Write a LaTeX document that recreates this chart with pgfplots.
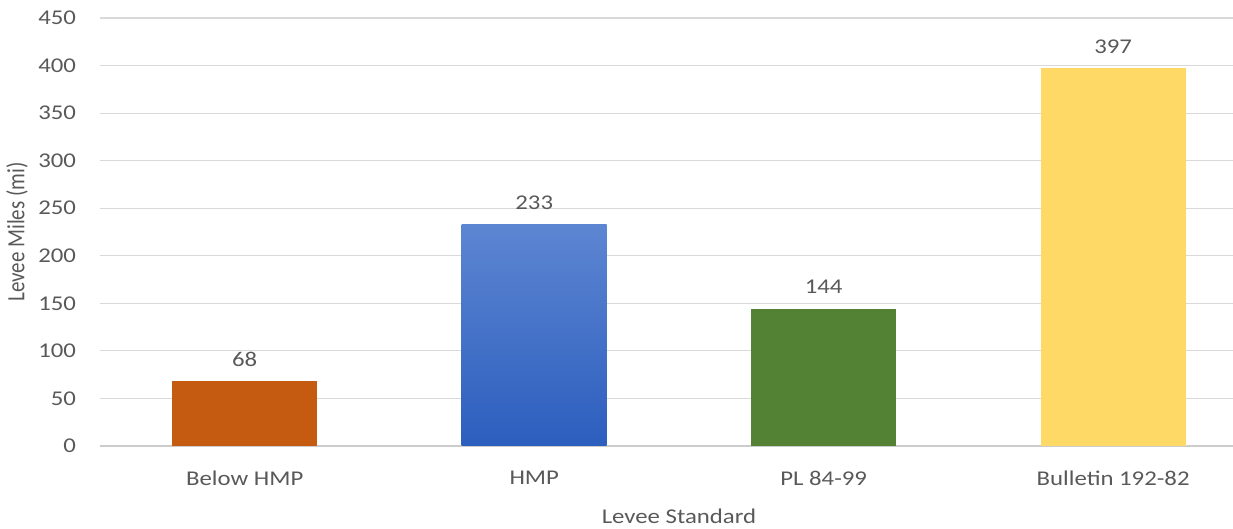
\documentclass[border=0pt]{standalone}
\usepackage{fontspec}
\setmainfont{Carlito}
\usepackage{graphicx}
\usepackage{pgfplots}
\pgfplotsset{compat=1.18}
\definecolor{txt}{HTML}{595959}
\definecolor{gridc}{HTML}{D9D9D9}
\definecolor{c1}{HTML}{C55A11}
\definecolor{c2t}{HTML}{5D86D2}
\definecolor{c2b}{HTML}{2C5EBE}
\definecolor{c3}{HTML}{548235}
\definecolor{c4}{HTML}{FFD966}
\newcommand{\sx}[1]{\scalebox{1.18}[1]{#1}}
\newcommand{\sy}[1]{\scalebox{1}[1.18]{#1}}
\begin{document}
\begin{tikzpicture}
\path[use as bounding box] (-50pt,-41.5pt) rectangle (566.5pt,223pt);
\begin{axis}[
  at={(0,0)}, anchor=south west,
  scale only axis, width=566.5pt, height=214pt,
  xmin=-0.5, xmax=3.414, ymin=0, ymax=450,
  ytick={0,50,...,450},
  xtick={0,1,2,3},
  xticklabels={\sx{Below HMP},\sx{HMP},\sx{PL 84-99},\sx{Bulletin 192-82}},
  yticklabel={\sx{\pgfmathprintnumber{\tick}}},
  axis line style={draw=none},
  ymajorgrids, xmajorgrids=false, grid style={draw=gridc, line width=0.6pt},
  major tick length=0pt,
  clip=false,
  font=\fontsize{10.5}{12}\selectfont,
  /pgf/number format/assume math mode=true,
  ticklabel style={text=txt},
  yticklabel style={anchor=east, xshift=-8.5pt},
  xticklabel style={anchor=center, yshift=-16pt},
  xlabel={\sx{Levee Standard}}, ylabel={\sy{Levee Miles (mi)}},
  label style={text=txt},
  xlabel style={at={(axis cs:1.5,0)}, anchor=center, yshift=-35pt},
  ylabel style={at={(axis description cs:0,0.5)}, anchor=center, yshift=41.5pt},
  every axis plot/.append style={ybar, bar width=72.5pt, bar shift=0pt, draw=none},
  nodes near coords={\sx{\pgfmathprintnumber{\pgfplotspointmeta}}},
  every node near coord/.append style={text=txt, font=\fontsize{10.5}{12}\selectfont, yshift=4pt},
]
\draw[color=gridc!85!gray, line width=0.8pt] (axis cs:-0.5,0) -- (axis cs:3.414,0);
\addplot[fill=c1] coordinates {(0,68)};
\addplot[top color=c2t, bottom color=c2b] coordinates {(1,233)};
\addplot[fill=c3] coordinates {(2,144)};
\addplot[fill=c4] coordinates {(3,397)};
\end{axis}
\end{tikzpicture}
\end{document}
